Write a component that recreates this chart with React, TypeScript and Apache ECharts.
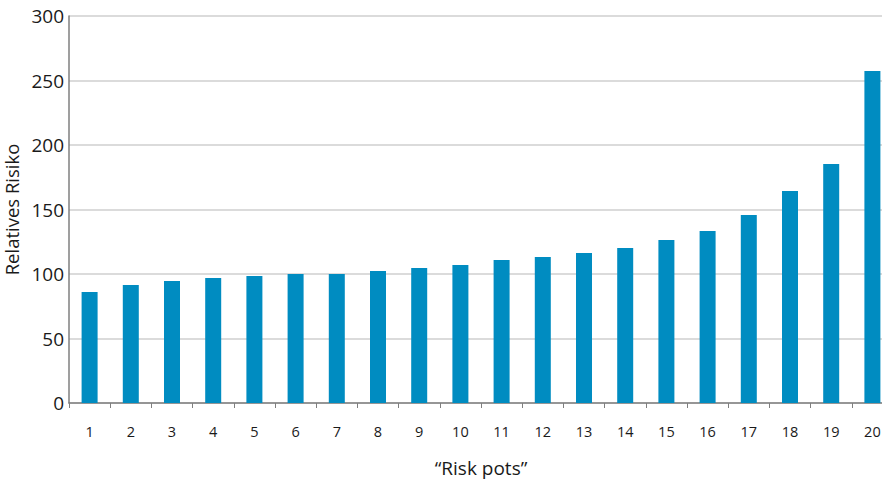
import React, { useEffect, useRef } from "react";
import * as echarts from "echarts";

const categories = ["1","2","3","4","5","6","7","8","9","10","11","12","13","14","15","16","17","18","19","20"];
const values = [86, 91.5, 94.6, 96.9, 98.4, 100, 100, 102.3, 104.7, 107, 110.8, 113.2, 116.3, 120.2, 126.4, 133.3, 145.7, 164.3, 185.3, 257.4];
const yTicks = [0, 300, 50];

export default function App() {
  const ref = useRef<HTMLDivElement>(null);
  useEffect(() => {
    const chart = echarts.init(ref.current!, null, { renderer: "svg" });
    chart.setOption({
      animation: false,
      textStyle: { fontFamily: "Open Sans" },
      grid: { left: 69, right: -11, top: 16, bottom: 79, containLabel: false, outerBoundsMode: "none" },
      xAxis: {
        type: "category",
        data: categories,
        name: "\u201cRisk pots\u201d",
        nameLocation: "middle",
        nameGap: 55,
        nameTextStyle: { fontSize: 19, color: "#1a1a1a", fontFamily: "Open Sans" },
        axisLine: { lineStyle: { color: "#7f7f7f", width: 1.5 } },
        axisTick: { show: true, length: 5, lineStyle: { color: "#7f7f7f" } },
        axisLabel: { fontSize: 14.5, color: "#1a1a1a", margin: 21 },
      },
      yAxis: {
        type: "value",
        min: yTicks[0],
        max: yTicks[1],
        interval: yTicks[2],
        name: "Relatives Risiko",
        nameLocation: "middle",
        nameGap: 42,
        nameTextStyle: { fontSize: 18.5, color: "#1a1a1a", fontFamily: "Open Sans" },
        axisLine: { show: true, lineStyle: { color: "#7f7f7f", width: 1.5 } },
        axisTick: { show: false },
        axisLabel: { fontSize: 19, color: "#1a1a1a", margin: 5 },
        splitLine: { lineStyle: { color: "#cfcfcf", width: 1.5 } },
      },
      series: [
        {
          type: "bar",
          data: values,
          barWidth: 16,
          itemStyle: { color: "#008cc1" },
        },
      ],
    });
    return () => chart.dispose();
  }, []);
  return <div ref={ref} style={{ position: "absolute", left: 0, top: 0, width: 882, height: 482 }} />;
}
